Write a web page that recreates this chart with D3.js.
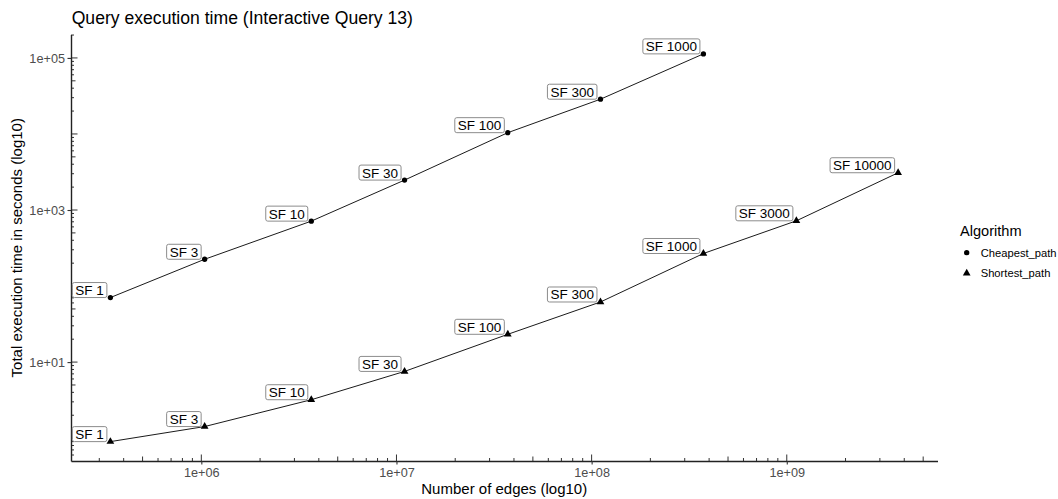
<!DOCTYPE html>
<html>
<head>
<meta charset="utf-8">
<script src="https://cdn.jsdelivr.net/npm/d3@7"></script>
<style>
  body { margin: 0; background: #fff; }
  text { font-family: "Liberation Sans", Arial, sans-serif; }
</style>
</head>
<body>
<div id="chart"></div>
<script>
// data
const scaleFactors = ['SF 1', 'SF 3', 'SF 10', 'SF 30', 'SF 100', 'SF 300', 'SF 1000', 'SF 3000', 'SF 10000']
const edges = [3.42e5, 1.04e6, 3.66e6, 1.10e7, 3.72e7, 1.11e8, 3.74e8, 1.12e9, 3.72e9]
const cheapestTime = [70.6, 225, 714, 2475, 10400, 28650, 113000]
const shortestTime = [0.90, 1.42, 3.20, 7.54, 23.2, 61.7, 268, 721, 3090]
const algorithms = ['Cheapest_path', 'Shortest_path']
const xTicks = [1e6, 1e7, 1e8, 1e9]
const yTicks = [1e1, 1e3, 1e5]

const W = 1058, H = 499
const panel = {left: 71, right: 937.5, top: 34.5, bottom: 461}

let series = [
  {name: algorithms[0], shape: d3.symbolCircle, size: 22,
    points: cheapestTime.map((t, i) => ({x: edges[i], y: t, label: scaleFactors[i]}))},
  {name: algorithms[1], shape: d3.symbolTriangle, size: 26,
    points: shortestTime.map((t, i) => ({x: edges[i], y: t, label: scaleFactors[i]}))}
]

// ggplot style 5% expansion on the log scale
function expanded(vals) {
  let lo = Math.log10(d3.min(vals)), hi = Math.log10(d3.max(vals))
  let pad = (hi - lo) * 0.05
  return [Math.pow(10, lo - pad), Math.pow(10, hi + pad)]
}

let allY = cheapestTime.concat(shortestTime)
let x = d3.scaleLog().domain(expanded(edges)).range([panel.left, panel.right])
let y = d3.scaleLog().domain(expanded(allY)).range([panel.bottom, panel.top])

let svg = d3.select('#chart').append('svg').attr('width', W).attr('height', H)

let fmt = v => '1e+' + String(Math.round(Math.log10(v))).padStart(2, '0')

// title
svg.append('text').attr('x', 71.7).attr('y', 24).attr('font-size', 17.6).attr('fill', '#000')
  .text('Query execution time (Interactive Query 13)')

// log ticks inside the panel (1..9 per decade)
function logTicks(domain) {
  let out = []
  let lo = Math.floor(Math.log10(domain[0])), hi = Math.ceil(Math.log10(domain[1]))
  for (let d = lo; d <= hi; d++) {
    for (let m = 1; m <= 9; m++) {
      let v = m * Math.pow(10, d)
      if (v >= domain[0] && v <= domain[1]) out.push({v: v, len: m === 1 ? 6.5 : (m === 5 ? 4.5 : 3)})
    }
  }
  return out
}

let lt = svg.append('g').attr('stroke', '#333').attr('stroke-width', 1)
lt.selectAll('.xt').data(logTicks(x.domain())).enter().append('line')
  .attr('x1', d => x(d.v)).attr('x2', d => x(d.v))
  .attr('y1', panel.bottom).attr('y2', d => panel.bottom - d.len)
lt.selectAll('.yt').data(logTicks(y.domain())).enter().append('line')
  .attr('y1', d => y(d.v)).attr('y2', d => y(d.v))
  .attr('x1', panel.left).attr('x2', d => panel.left + d.len)

// axes
let xAxis = svg.append('g').attr('transform', 'translate(0,' + panel.bottom + ')')
  .call(d3.axisBottom(x).tickValues(xTicks).tickFormat(fmt).tickSize(3.5).tickSizeOuter(0).tickPadding(3.5))
let yAxis = svg.append('g').attr('transform', 'translate(' + panel.left + ',0)')
  .call(d3.axisLeft(y).tickValues(yTicks).tickFormat(fmt).tickSize(3.5).tickSizeOuter(0).tickPadding(2.5))

;[xAxis, yAxis].forEach(g => {
  g.select('.domain').attr('stroke', '#222').attr('stroke-width', 1.4)
  g.selectAll('.tick line').attr('stroke', '#333').attr('stroke-width', 1.1)
  g.selectAll('.tick text').attr('fill', '#4d4d4d').attr('font-size', 12.7)
    .attr('font-family', '"Liberation Sans", Arial, sans-serif')
})

// axis titles
svg.append('text').attr('x', (panel.left + panel.right) / 2).attr('y', 494)
  .attr('text-anchor', 'middle').attr('font-size', 15).text('Number of edges (log10)')
svg.append('text').attr('transform', 'translate(22,' + (panel.top + panel.bottom) / 2 + ') rotate(-90)')
  .attr('text-anchor', 'middle').attr('font-size', 15).text('Total execution time in seconds (log10)')

let line = d3.line().x(d => x(d.x)).y(d => y(d.y))

series.forEach(s => {
  svg.append('path').datum(s.points).attr('d', line)
    .attr('fill', 'none').attr('stroke', '#000').attr('stroke-width', 0.9)

  svg.selectAll(null).data(s.points).enter().append('path')
    .attr('d', d3.symbol().type(s.shape).size(s.size))
    .attr('transform', d => 'translate(' + x(d.x) + ',' + y(d.y) + ')')
    .attr('fill', '#000')
})

// labels (box sits up-left of the point)
series.forEach(s => {
  s.points.forEach(d => {
    let px = x(d.x), py = y(d.y)
    let g = svg.append('g')
    let rect = g.append('rect')
    let t = g.append('text').attr('font-size', 13.5).attr('fill', '#000')
      .attr('text-anchor', 'end').attr('x', px - 6.5).attr('y', py - 2.5).text(d.label)
    let tw = t.node().getComputedTextLength()
    rect.attr('x', px - 3.5 - tw - 6).attr('y', py - 15).attr('width', tw + 6).attr('height', 15)
      .attr('rx', 2).attr('fill', '#fff').attr('stroke', '#8c8c8c').attr('stroke-width', 1)
  })
})

// legend
let leg = svg.append('g')
leg.append('text').attr('x', 960).attr('y', 236).attr('font-size', 14.6).text('Algorithm')
series.forEach((s, i) => {
  let cy = 252.7 + i * 20.6
  leg.append('path').attr('d', d3.symbol().type(s.shape).size(s.size))
    .attr('transform', 'translate(966.7,' + cy + ')').attr('fill', '#000')
  leg.append('text').attr('x', 980.7).attr('y', cy).attr('dy', '0.35em')
    .attr('font-size', 11.2).text(s.name)
})
</script>
</body>
</html>
